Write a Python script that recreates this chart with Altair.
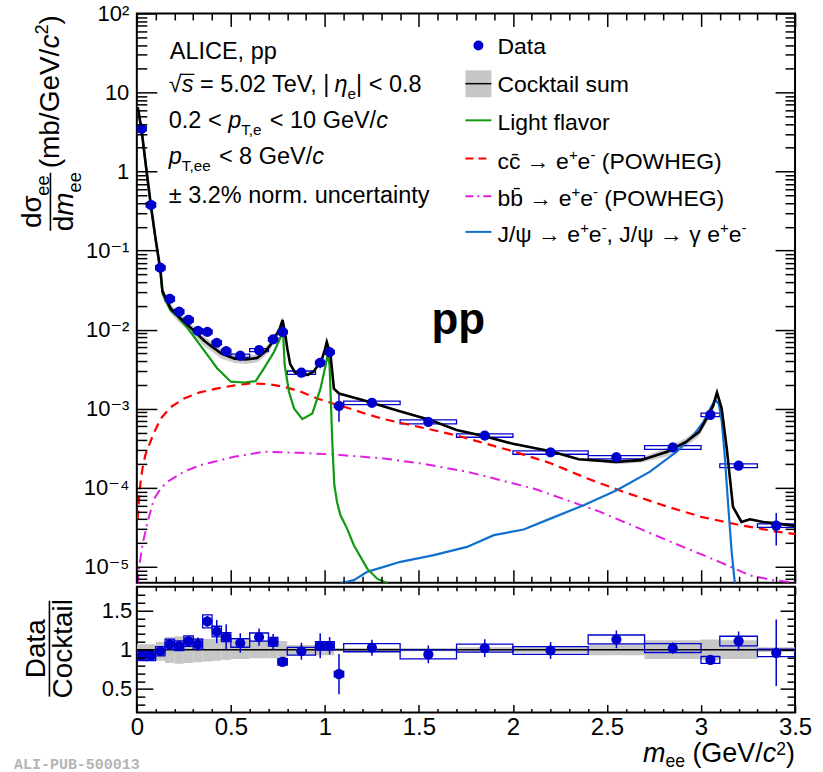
import math
import altair as alt
import pandas as pd

# ------------------------------------------------------------------ data
bin_lo = [0.00, 0.05, 0.10, 0.15, 0.20, 0.25, 0.30, 0.35, 0.40, 0.45, 0.50, 0.60, 0.70, 0.75,
          0.80, 0.95, 1.00, 1.05, 1.10, 1.40, 1.70, 2.00, 2.40, 2.70, 3.00, 3.10, 3.30]
bin_hi = [0.05, 0.10, 0.15, 0.20, 0.25, 0.30, 0.35, 0.40, 0.45, 0.50, 0.60, 0.70, 0.75, 0.80,
          0.95, 1.00, 1.05, 1.10, 1.40, 1.70, 2.00, 2.40, 2.70, 3.00, 3.10, 3.30, 3.50]
data_y = [3.5, 0.38, 0.061, 0.0245, 0.0169, 0.0133, 0.0097, 0.0094, 0.00684, 0.00537,
          0.00469, 0.00553, 0.00754, 0.00936, 0.00286, 0.00382, 0.00522, 0.00109, 0.00119,
          0.000684, 0.000459, 0.00028, 0.000244, 0.000324, 0.000839, 0.000191, 3.33e-5]
stat_rel = [0.02, 0.02, 0.03, 0.03, 0.03, 0.045, 0.08, 0.05, 0.12, 0.14, 0.115, 0.095, 0.09,
            0.05, 0.11, 0.15, 0.105, 0.37, 0.10, 0.12, 0.11, 0.11, 0.10, 0.07, 0.06, 0.11, 0.44]
sys_rel = [0.065, 0.065, 0.06, 0.06, 0.06, 0.06, 0.06, 0.06, 0.055, 0.05, 0.05, 0.045, 0.05,
           0.05, 0.05, 0.05, 0.05, 0.05, 0.05, 0.06, 0.05, 0.05, 0.05, 0.055, 0.05, 0.055, 0.05]
ratio_y = [0.92, 0.92, 0.98, 1.07, 1.05, 1.11, 1.07, 1.36, 1.23, 1.16, 1.085, 1.16, 1.10,
           0.845, 0.98, 1.05, 1.05, 0.69, 1.025, 0.94, 1.02, 0.99, 1.13, 1.02, 0.87, 1.11, 0.96]
band_lo = [0.88, 0.88, 0.86, 0.83, 0.82, 0.83, 0.84, 0.85, 0.86, 0.87, 0.88, 0.89, 0.89, 0.89,
           0.93, 0.93, 0.93, 0.98, 0.98, 0.98, 0.97, 0.96, 0.93, 0.88, 0.87, 0.88, 0.97]
band_hi = [1.07, 1.07, 1.10, 1.16, 1.17, 1.16, 1.15, 1.14, 1.14, 1.13, 1.12, 1.12, 1.12, 1.11,
           1.06, 1.06, 1.06, 1.02, 1.02, 1.02, 1.03, 1.04, 1.07, 1.12, 1.13, 1.12, 1.03]

ck_x = [0.005, 0.025, 0.05, 0.075, 0.10, 0.125, 0.136, 0.15, 0.18, 0.22, 0.27, 0.32, 0.36, 0.40,
        0.45, 0.52, 0.58, 0.64, 0.68, 0.71, 0.74, 0.757, 0.775, 0.79, 0.80, 0.815, 0.84, 0.87,
        0.91, 0.94, 0.965, 0.985, 1.0, 1.01, 1.02, 1.03, 1.048, 1.075, 1.2, 1.38, 1.56, 1.70,
        1.85, 2.0, 2.2, 2.35, 2.55, 2.68, 2.82, 2.92, 2.99, 3.04, 3.065, 3.085, 3.11, 3.137,
        3.17, 3.215, 3.26, 3.33, 3.40, 3.50]
ck_y = [6.5, 3.4, 1.1, 0.37, 0.14, 0.058, 0.031, 0.026, 0.0186, 0.0148, 0.0115, 0.0089, 0.0072,
        0.0061, 0.0050, 0.0043, 0.0042, 0.0044, 0.0052, 0.0064, 0.0085, 0.0098, 0.0133, 0.0085,
        0.0058, 0.0037, 0.0029, 0.00267, 0.0027, 0.00295, 0.0036, 0.0043, 0.0056, 0.0070,
        0.0058, 0.0048, 0.0018, 0.00156, 0.00129, 0.00096, 0.00072, 0.00054, 0.00045, 0.00036,
        0.00029, 0.00023, 0.000213, 0.000224, 0.000286, 0.00038, 0.00051, 0.00083, 0.0011,
        0.0016, 0.00101, 0.000315, 5.75e-5, 3.7e-5, 4.0e-5, 3.7e-5, 3.55e-5, 3.3e-5]
ck_unc = [0.07, 0.07, 0.07, 0.07, 0.07, 0.07, 0.07, 0.14, 0.14, 0.14, 0.14, 0.14, 0.14, 0.14,
          0.14, 0.12, 0.12, 0.12, 0.12, 0.12, 0.12, 0.12, 0.12, 0.06, 0.06, 0.06, 0.06, 0.06,
          0.06, 0.06, 0.06, 0.06, 0.06, 0.06, 0.06, 0.06, 0.06, 0.03, 0.03, 0.03, 0.03, 0.03,
          0.03, 0.03, 0.03, 0.03, 0.07, 0.07, 0.12, 0.12, 0.12, 0.12, 0.12, 0.12, 0.12, 0.04,
          0.04, 0.04, 0.04, 0.04, 0.04, 0.04]

lf_x = [0.005, 0.025, 0.05, 0.075, 0.10, 0.125, 0.136, 0.15, 0.18, 0.215, 0.27, 0.322, 0.375,
        0.428, 0.5, 0.57, 0.632, 0.676, 0.73, 0.765, 0.776, 0.786, 0.809, 0.836, 0.88, 0.933,
        0.977, 1.004, 1.016, 1.025, 1.032, 1.04, 1.05, 1.065, 1.083, 1.118, 1.154, 1.225,
        1.278, 1.331, 1.37]
lf_y = [6.4, 3.35, 1.08, 0.36, 0.135, 0.056, 0.029, 0.024, 0.0175, 0.0148, 0.0105, 0.0071,
        0.0048, 0.00323, 0.0022, 0.00215, 0.00224, 0.00324, 0.00527, 0.0081, 0.0115, 0.0036,
        0.00164, 0.00101, 0.00074, 0.00087, 0.00181, 0.00357, 0.0050, 0.0035, 0.0012, 0.00035,
        0.00011, 6.5e-5, 4.5e-5, 3.05e-5, 1.88e-5, 9.5e-6, 7.1e-6, 6.2e-6, 5.5e-6]

cc_x = [0.004, 0.012, 0.02, 0.03, 0.045, 0.065, 0.09, 0.127, 0.18, 0.251, 0.33, 0.428, 0.52,
        0.605, 0.7, 0.782, 0.87, 0.96, 1.05, 1.136, 1.22, 1.313, 1.5, 1.7, 2.0, 2.2, 2.4, 2.6,
        2.8, 3.0, 3.2, 3.4, 3.5]
cc_y = [4.0e-5, 7.3e-5, 1.2e-4, 1.76e-4, 2.6e-4, 3.47e-4, 4.9e-4, 7.5e-4, 1.05e-3, 1.35e-3,
        1.6e-3, 1.81e-3, 1.98e-3, 2.09e-3, 2.05e-3, 1.9e-3, 1.65e-3, 1.35e-3, 1.15e-3, 1.0e-3,
        8.6e-4, 7.4e-4, 5.9e-4, 4.6e-4, 2.9e-4, 2.05e-4, 1.3e-4, 8.7e-5, 6.0e-5, 4.3e-5,
        3.4e-5, 2.8e-5, 2.6e-5]

bb_x = [0.006, 0.012, 0.03, 0.057, 0.092, 0.13, 0.163, 0.25, 0.34, 0.517, 0.676, 0.871, 1.048,
        1.313, 1.508, 1.756, 2.11, 2.464, 2.818, 3.101, 3.261, 3.384, 3.5]
bb_y = [6.0e-6, 1.0e-5, 1.9e-5, 3.7e-5, 7.3e-5, 1.0e-4, 1.19e-4, 1.6e-4, 1.94e-4, 2.47e-4,
        2.86e-4, 2.77e-4, 2.64e-4, 2.35e-4, 2.04e-4, 1.6e-4, 9.8e-5, 4.97e-5, 2.18e-5, 1.15e-5,
        7.8e-6, 6.8e-6, 6.3e-6]

jp_x = [1.083, 1.154, 1.225, 1.313, 1.402, 1.508, 1.579, 1.756, 1.898, 2.057, 2.199, 2.376,
        2.552, 2.729, 2.871, 2.96, 3.013, 3.049, 3.075, 3.095, 3.11, 3.124, 3.137, 3.15, 3.163,
        3.18]
jp_y = [6.2e-6, 6.8e-6, 8.65e-6, 1.0e-5, 1.16e-5, 1.3e-5, 1.41e-5, 1.79e-5, 2.52e-5, 2.97e-5,
        4.08e-5, 6.03e-5, 9.3e-5, 1.6e-4, 2.86e-4, 4.65e-4, 6.84e-4, 1.0e-3, 1.3e-3, 1.15e-3,
        7e-4, 3e-4, 1.08e-4, 4e-5, 1.55e-5, 6.2e-6]

legend_labels = ["Data", "Cocktail sum", "Light flavor"]

# ------------------------------------------------------------------ style
FONT = "Liberation Sans, Arial, Helvetica, DejaVu Sans"
BLUE = "#0000cc"
GREEN = "#119911"
RED = "#ff0000"
MAGENTA = "#e020e0"
JPSI = "#1070d0"
GRAY = "#c6c6c6"

W, H_TOP, H_BOT = 659, 570, 126
O_TOP = (136, 12)
O_BOT = (136, 583)

ARIAL = {' ': 278, '!': 278, '%': 889, '(': 333, ')': 333, '+': 584, ',': 278,
         '-': 333, '.': 278, '/': 278, '<': 584, '=': 584, '>': 584, '|': 260,
         'A': 667, 'B': 667, 'C': 722, 'D': 722, 'E': 667, 'G': 778, 'H': 722, 'I': 278,
         'J': 500, 'K': 667, 'L': 556, 'M': 833, 'N': 722, 'O': 778, 'P': 667, 'R': 722,
         'S': 667, 'T': 611, 'U': 722, 'V': 667, 'W': 944,
         'a': 556, 'b': 556, 'c': 500, 'd': 556, 'e': 556, 'f': 278, 'g': 556, 'h': 556,
         'i': 222, 'k': 500, 'l': 222, 'm': 833, 'n': 556, 'o': 556, 'p': 556, 'r': 333,
         's': 500, 't': 278, 'u': 556, 'v': 500, 'y': 500,
         '±': 584, '√': 549, 'η': 556, 'σ': 600, 'ψ': 712, 'γ': 500, '→': 1000,
         '\u0304': 0, '²': 333}
for d in "0123456789":
    ARIAL[d] = 556


def tw(s, size):
    return sum(ARIAL.get(c, 556) for c in s) * size / 1000.0


ONE = alt.Data(values=[{"k": 0}])


def tlayer(text, x, y, size, style="normal", weight="normal", angle=0, color="black",
           font=FONT, align="left"):
    kw = dict(text=text, font=font, fontSize=size, fontStyle=style,
              fontWeight=weight, align=align, baseline="alphabetic", color=color)
    if angle:
        kw["angle"] = angle
    return alt.Chart(ONE).mark_text(**kw).encode(x=alt.value(x), y=alt.value(y))


def rich(parts, x0, y0, size, origin, angle=0, color="black", sub_scale=0.65, sub_off=0.28,
         sup_off=0.40):
    """Lay out text pieces (normal / italic / sub / sup) along one baseline."""
    a = math.radians(angle)
    dx, dy = round(math.cos(a), 6), round(math.sin(a), 6)
    nx, ny = -dy, dx
    adv = 0.0
    out = []
    for text, kind in parts:
        if kind in ("sub", "sup"):
            fs = size * sub_scale
            off = sub_off * size if kind == "sub" else -sup_off * size
        else:
            fs = size
            off = 0.0
        style = "italic" if kind == "i" else "normal"
        lead = len(text) - len(text.lstrip(" "))
        core = text.strip(" ")
        a0 = adv + tw(" " * lead, fs)
        if core:
            px = x0 + a0 * dx + off * nx - origin[0]
            py = y0 + a0 * dy + off * ny - origin[1]
            out.append(tlayer(core, px, py, fs, style=style, angle=angle, color=color))
        adv += tw(text, fs)
    return out, adv


def seg(x1, y1, x2, y2, origin, color="black", width=1.5, dash=None):
    kw = dict(color=color, strokeWidth=width)
    if dash:
        kw["strokeDash"] = dash
    return alt.Chart(ONE).mark_rule(**kw).encode(
        x=alt.value(x1 - origin[0]), x2=alt.value(x2 - origin[0]),
        y=alt.value(y1 - origin[1]), y2=alt.value(y2 - origin[1]))


# ------------------------------------------------------------------ frames
pts = pd.DataFrame({"lo": bin_lo, "hi": bin_hi, "y": data_y, "stat": stat_rel,
                    "sys": sys_rel, "r": ratio_y, "blo": band_lo, "bhi": band_hi})
pts["x"] = (pts["lo"] + pts["hi"]) / 2
pts["ylo"] = pts["y"] * (1 - pts["stat"])
pts["yhi"] = pts["y"] * (1 + pts["stat"])
pts["slo"] = pts["y"] * (1 - pts["sys"])
pts["shi"] = pts["y"] * (1 + pts["sys"])
pts["rlo"] = pts["r"] * (1 - pts["stat"])
pts["rhi"] = pts["r"] * (1 + pts["stat"])
pts["rslo"] = pts["r"] * (1 - pts["sys"])
pts["rshi"] = pts["r"] * (1 + pts["sys"])

ck = pd.DataFrame({"x": ck_x, "y": ck_y, "u": ck_unc})
ck["lo"] = ck["y"] * (1 - ck["u"])
ck["hi"] = ck["y"] * (1 + ck["u"])
lf = pd.DataFrame({"x": lf_x, "y": lf_y})
cc = pd.DataFrame({"x": cc_x, "y": cc_y})
bb = pd.DataFrame({"x": bb_x, "y": bb_y})
jp = pd.DataFrame({"x": jp_x, "y": jp_y})

# ------------------------------------------------------------------ scales / axes
xs = alt.Scale(domain=[0, 3.5], nice=False, zero=False)
ys_top = alt.Scale(type="log", domain=[6.3e-6, 100], nice=False)
ys_bot = alt.Scale(domain=[0.2, 1.8], nice=False, zero=False)

x_vals = [round(i * 0.1, 2) for i in range(0, 36)]
x_major = [round(i * 0.5, 2) for i in range(0, 8)]
y_log_vals = []
for e in range(-6, 3):
    for k in range(1, 10):
        v = k * 10.0 ** e
        if 6.3e-6 < v <= 100.0 + 1e-9:
            y_log_vals.append(float("%.3g" % v))
y_log_major = [10.0 ** e for e in range(-5, 3)]
r_vals = [round(0.3 + i * 0.1, 2) for i in range(0, 15)]
r_major = [0.5, 1.0, 1.5]

LOGE = "round(log(datum.value)/LN10)"
LOG_MAJOR = f"abs(log(datum.value)/LN10 - {LOGE}) < 0.01"
sup_map = {2: "10²", 1: "10", 0: "1", -1: "10⁻¹", -2: "10⁻²", -3: "10⁻³", -4: "10⁻⁴",
           -5: "10⁻⁵"}
lab = "''"
for ex, s in sup_map.items():
    lab = f"{LOGE} == {ex} ? '{s}' : ({lab})"
log_label_expr = lab


def lin_major(step):
    return f"abs(datum.value/{step} - round(datum.value/{step})) < 0.001"


def log_ticks(major, minor):
    return {"expr": f"{LOG_MAJOR} ? {-major} : {-minor}"}


def lin_ticks(major, minor, step=0.5):
    return {"expr": f"{lin_major(step)} ? {-major} : {-minor}"}


common = dict(title=None, domain=False, grid=False, tickColor="black", tickWidth=1.5,
              labelOverlap=False, labelFlush=False, zindex=2)


def tick_axis(orient, values, size):
    return alt.Axis(orient=orient, values=values, tickSize=size, labels=False, **common)


def label_axis(orient, values, expr, pad, fs):
    return alt.Axis(orient=orient, values=values, ticks=False, labelExpr=expr,
                    labelPadding=pad, labelFontSize=fs, labelFont=FONT, labelColor="black",
                    **common)


ax_t_left = tick_axis("left", y_log_vals, log_ticks(20, 10))
ax_t_right = tick_axis("right", y_log_vals, log_ticks(20, 10))
ax_t_bottom = tick_axis("bottom", x_vals, lin_ticks(13, 6.5))
ax_t_top = tick_axis("top", x_vals, lin_ticks(13, 6.5))
ax_t_ylab = label_axis("left", y_log_major, log_label_expr, 8, 22)

ax_b_left = tick_axis("left", r_vals, lin_ticks(16, 8))
ax_b_right = tick_axis("right", r_vals, lin_ticks(15, 8))
ax_b_bottom = tick_axis("bottom", x_vals, lin_ticks(8, 4))
ax_b_top = tick_axis("top", x_vals, lin_ticks(8, 4))
ax_b_ylab = label_axis("left", r_major, "format(datum.value, '~g')", 5, 22)
ax_b_xlab = label_axis("bottom", x_major, "format(datum.value, '~g')", 3, 24)


def X(f, axis=None):
    return alt.X(f, type="quantitative", scale=xs, axis=axis)


def YT(f, axis=None):
    return alt.Y(f, type="quantitative", scale=ys_top, axis=axis)


def YB(f, axis=None):
    return alt.Y(f, type="quantitative", scale=ys_bot, axis=axis)


# ------------------------------------------------------------------ top panel
top_layers = []
top_layers.append(alt.Chart(ck).mark_area(color=GRAY, opacity=0.9, clip=True).encode(
    x=X("x"), y=YT("lo", ax_t_ylab), y2=alt.Y2("hi")))
top_layers.append(alt.Chart(pts).mark_rect(fillOpacity=0, stroke=BLUE, strokeWidth=1.3,
                                           clip=True).encode(
    x=X("lo"), x2=alt.X2("hi"), y=YT("slo"), y2=alt.Y2("shi")))
top_layers.append(alt.Chart(bb).mark_line(color=MAGENTA, strokeWidth=2,
                                          strokeDash=[10, 5, 2, 5], clip=True).encode(
    x=X("x"), y=YT("y")))
top_layers.append(alt.Chart(cc).mark_line(color=RED, strokeWidth=2.2, strokeDash=[9, 6],
                                          clip=True).encode(x=X("x"), y=YT("y")))
top_layers.append(alt.Chart(jp).mark_line(color=JPSI, strokeWidth=2.2, clip=True).encode(
    x=X("x"), y=YT("y")))
top_layers.append(alt.Chart(lf).mark_line(color=GREEN, strokeWidth=2.2, clip=True).encode(
    x=X("x"), y=YT("y")))
top_layers.append(alt.Chart(ck).mark_line(color="black", strokeWidth=2.6, clip=True).encode(
    x=X("x", ax_t_top), y=YT("y", ax_t_right)))
top_layers.append(alt.Chart(pts).mark_rule(color=BLUE, strokeWidth=1.5, clip=True).encode(
    x=X("x"), y=YT("ylo"), y2=alt.Y2("yhi")))
top_layers.append(alt.Chart(pts).mark_circle(size=105, color=BLUE, opacity=1,
                                             clip=True).encode(
    x=X("x", ax_t_bottom), y=YT("y", ax_t_left)))

# text block
TS = 23.5
lines = [
    ([("ALICE, pp", "n")], 169, 57.5),
    ([("√", "n"), ("s", "i"), (" = 5.02 TeV, |", "n"), ("η", "i"), ("e", "sub"),
      ("| < 0.8", "n")], 168, 91),
    ([("0.2 < ", "n"), ("p", "i"), ("T,e", "sub"), (" < 10 GeV/", "n"), ("c", "i")], 168, 127),
    ([("p", "i"), ("T,ee", "sub"), (" < 8 GeV/", "n"), ("c", "i")], 168, 163),
    ([("± 3.2% norm. uncertainty", "n")], 168, 202),
]
for parts, x0, y0 in lines:
    lay, _ = rich(parts, x0, y0, TS, O_TOP)
    top_layers += lay
sx = 168 + tw("√", TS)
top_layers.append(seg(sx - 1, 73, sx + tw("s", TS) + 1, 73, O_TOP, width=1.3))

# big pp
top_layers.append(tlayer("pp", 431 - O_TOP[0], 333 - O_TOP[1], 44, weight="bold"))

# legend
LS = 23
LX = 497
top_layers.append(alt.Chart(ONE).mark_circle(size=100, color=BLUE, opacity=1).encode(
    x=alt.value(478 - O_TOP[0]), y=alt.value(44 - O_TOP[1])))
top_layers.append(alt.Chart(ONE).mark_rect(color=GRAY).encode(
    x=alt.value(465 - O_TOP[0]), x2=alt.value(491 - O_TOP[0]),
    y=alt.value(69 - O_TOP[1]), y2=alt.value(96 - O_TOP[1])))
top_layers.append(seg(465, 82.3, 491, 82.3, O_TOP, color="black", width=1.5))
top_layers.append(seg(465, 119, 491, 119, O_TOP, color=GREEN, width=2))
top_layers.append(seg(465, 157.3, 491, 157.3, O_TOP, color=RED, width=2, dash=[8, 5]))
top_layers.append(seg(465, 195, 491, 195, O_TOP, color=MAGENTA, width=2, dash=[8, 4, 2, 4]))
top_layers.append(seg(465, 230.7, 491, 230.7, O_TOP, color=JPSI, width=2))
leg_lines = [
    ([(legend_labels[0], "n")], 52.3),
    ([(legend_labels[1], "n")], 91),
    ([(legend_labels[2], "n")], 128.3),
    ([("cc\u0304 → e", "n"), ("+", "sup"), ("e", "n"), ("-", "sup"), (" (POWHEG)", "n")], 167.5),
    ([("bb\u0304 → e", "n"), ("+", "sup"), ("e", "n"), ("-", "sup"), (" (POWHEG)", "n")], 205),
    ([("J/ψ → e", "n"), ("+", "sup"), ("e", "n"), ("-", "sup"), (", J/ψ → γ e", "n"),
      ("+", "sup"), ("e", "n"), ("-", "sup")], 240.7),
]
for parts, y0 in leg_lines:
    lay, _ = rich(parts, LX, y0, LS, O_TOP)
    top_layers += lay

# y title (rotated)
YS = 28
num = [("dσ", "n"), ("ee", "sub")]
den = [("d", "n"), ("m", "i"), ("ee", "sub")]
wn = tw("dσ", YS) + tw("ee", YS * 0.65)
wd = tw("d", YS) + tw("m", YS) + tw("ee", YS * 0.65)
yc = 200.5
lay, _ = rich(num, 40.5, yc + wn / 2, YS, O_TOP, angle=270)
top_layers += lay
lay, _ = rich(den, 72, yc + wd / 2, YS, O_TOP, angle=270)
top_layers += lay
top_layers.append(seg(49.5, yc - 29, 49.5, yc + 29, O_TOP, width=1.6))
lay, _ = rich([("(mb/GeV/", "n"), ("c", "i"), ("2", "sup"), (")", "n")], 58, 167, YS, O_TOP,
              angle=270)
top_layers += lay

top = alt.layer(*top_layers).properties(width=W, height=H_TOP).resolve_axis(
    x="independent", y="independent")

# ------------------------------------------------------------------ bottom panel
bot_layers = []
bot_layers.append(alt.Chart(pts).mark_rect(color=GRAY, clip=True).encode(
    x=X("lo", ax_b_top), x2=alt.X2("hi"), y=YB("blo", ax_b_right), y2=alt.Y2("bhi")))
bot_layers.append(alt.Chart(ONE).mark_rule(color="black", strokeWidth=1.5).encode(
    y=alt.datum(1, scale=ys_bot, axis=None)))
bot_layers.append(alt.Chart(pts).mark_rect(fillOpacity=0, stroke=BLUE, strokeWidth=1.3,
                                           clip=True).encode(
    x=X("lo", ax_b_xlab), x2=alt.X2("hi"), y=YB("rslo", ax_b_ylab), y2=alt.Y2("rshi")))
bot_layers.append(alt.Chart(pts).mark_rule(color=BLUE, strokeWidth=1.5, clip=True).encode(
    x=X("x"), y=YB("rlo"), y2=alt.Y2("rhi")))
bot_layers.append(alt.Chart(pts).mark_circle(size=105, color=BLUE, opacity=1,
                                             clip=True).encode(
    x=X("x", ax_b_bottom), y=YB("r", ax_b_left)))

RS = 28
lay, _ = rich([("Data", "n")], 44, 645 + tw("Data", RS) / 2, RS, O_BOT, angle=270)
bot_layers += lay
lay, _ = rich([("Cocktail", "n")], 71, 645 + tw("Cocktail", RS) / 2, RS, O_BOT, angle=270)
bot_layers += lay
bot_layers.append(seg(48.5, 597, 48.5, 693, O_BOT, width=1.6))

XS = 27
xt_parts = [("m", "i"), ("ee", "sub"), (" (GeV/", "n"), ("c", "i"), ("2", "sup"), (")", "n")]
xt_w = (tw("m", XS) + tw("ee", XS * 0.65) + tw(" (GeV/", XS) + tw("c", XS)
        + tw("2", XS * 0.65) + tw(")", XS))
lay, _ = rich(xt_parts, 795 - xt_w, 758, XS, O_BOT, sub_off=0.2, sup_off=0.25)
bot_layers += lay
bot_layers.append(tlayer("ALI-PUB-500013", 13 - O_BOT[0], 765 - O_BOT[1], 15,
                         weight="bold", color="#b4b4b4",
                         font="Liberation Mono, DejaVu Sans Mono, monospace"))

bottom = alt.layer(*bot_layers).properties(width=W, height=H_BOT).resolve_axis(
    x="independent", y="independent")

chart = alt.vconcat(top, bottom, spacing=0).properties(
    padding={"left": 13, "top": 1, "right": 10, "bottom": 0},
    background="white",
).configure_view(stroke="black", strokeWidth=2)

chart.save("out.html", embed_options={"renderer": "svg", "actions": False})
